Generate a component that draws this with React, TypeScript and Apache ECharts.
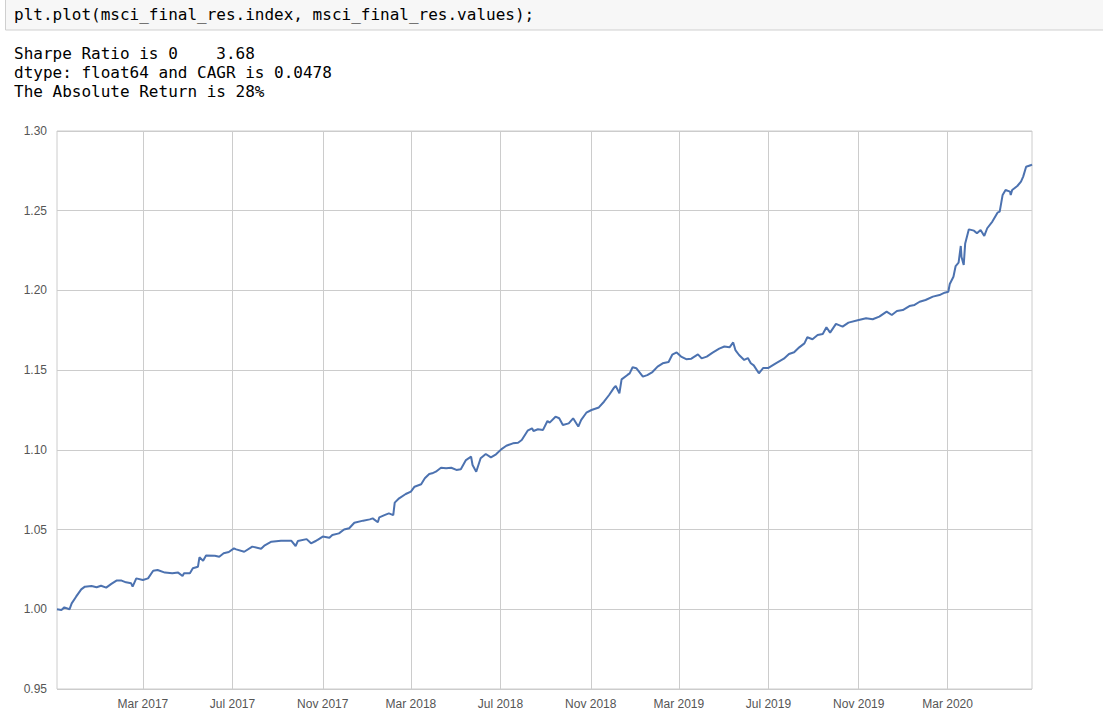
import { useEffect, useRef } from "react";
import * as echarts from "echarts";

const codeLine = "plt.plot(msci_final_res.index, msci_final_res.values);";
const outputLines = [
  "Sharpe Ratio is 0    3.68",
  "dtype: float64 and CAGR is 0.0478",
  "The Absolute Return is 28%",
];

const xStart = "2016-11-04";
const xEnd = "2020-06-24";
const yMin = 0.95;
const yMax = 1.3;
const yStep = 0.05;

const tickDates = [
  "2017-03-01", "2017-07-01", "2017-11-01", "2018-03-01", "2018-07-01",
  "2018-11-01", "2019-03-01", "2019-07-01", "2019-11-01", "2020-03-01",
];
const monthNames = ["Jan", "Feb", "Mar", "Apr", "May", "Jun", "Jul", "Aug", "Sep", "Oct", "Nov", "Dec"];

const dates = [
  "2016-11-04", "2016-11-10", "2016-11-14", "2016-11-21", "2016-11-24", "2016-11-30",
  "2016-12-07", "2016-12-12", "2016-12-21", "2016-12-28",
  "2017-01-03", "2017-01-10", "2017-01-17", "2017-01-24", "2017-01-31",
  "2017-02-06", "2017-02-13", "2017-02-15", "2017-02-20",
  "2017-03-01", "2017-03-08", "2017-03-15", "2017-03-21", "2017-03-31",
  "2017-04-10", "2017-04-18", "2017-04-24", "2017-04-26",
  "2017-05-04", "2017-05-08", "2017-05-15", "2017-05-17", "2017-05-22", "2017-05-26",
  "2017-06-07", "2017-06-13", "2017-06-19", "2017-06-26",
  "2017-07-03", "2017-07-06", "2017-07-17", "2017-07-28",
  "2017-08-09", "2017-08-14", "2017-08-23",
  "2017-09-05", "2017-09-19", "2017-09-25", "2017-09-28",
  "2017-10-10", "2017-10-16", "2017-10-23", "2017-10-25",
  "2017-11-01", "2017-11-10", "2017-11-14", "2017-11-23", "2017-11-30",
  "2017-12-07", "2017-12-14", "2017-12-26",
  "2018-01-04", "2018-01-08", "2018-01-15", "2018-01-17", "2018-01-24", "2018-01-30",
  "2018-02-05", "2018-02-07", "2018-02-13", "2018-02-22",
  "2018-03-01", "2018-03-06", "2018-03-15", "2018-03-20", "2018-03-26", "2018-03-30",
  "2018-04-04", "2018-04-11", "2018-04-18", "2018-04-25",
  "2018-05-02", "2018-05-08", "2018-05-15", "2018-05-22", "2018-05-24", "2018-05-29",
  "2018-06-04", "2018-06-11", "2018-06-18", "2018-06-25",
  "2018-07-02", "2018-07-09", "2018-07-18", "2018-07-25", "2018-07-30",
  "2018-08-07", "2018-08-13", "2018-08-15", "2018-08-21", "2018-08-28",
  "2018-09-03", "2018-09-06", "2018-09-14", "2018-09-19", "2018-09-24",
  "2018-10-02", "2018-10-08", "2018-10-15", "2018-10-19", "2018-10-26",
  "2018-11-02", "2018-11-12", "2018-11-19", "2018-11-26",
  "2018-12-03", "2018-12-05", "2018-12-10", "2018-12-13", "2018-12-21", "2018-12-24", "2018-12-28",
  "2019-01-02", "2019-01-11", "2019-01-17", "2019-01-24", "2019-01-31",
  "2019-02-07", "2019-02-15", "2019-02-20", "2019-02-26",
  "2019-03-04", "2019-03-11", "2019-03-18", "2019-03-27",
  "2019-04-01", "2019-04-08", "2019-04-16", "2019-04-25",
  "2019-05-02", "2019-05-09", "2019-05-14", "2019-05-17", "2019-05-22", "2019-05-29",
  "2019-06-03", "2019-06-07", "2019-06-11", "2019-06-18", "2019-06-24",
  "2019-07-01", "2019-07-11", "2019-07-22", "2019-07-29",
  "2019-08-05", "2019-08-12", "2019-08-19", "2019-08-23", "2019-08-30",
  "2019-09-06", "2019-09-13", "2019-09-18", "2019-09-23",
  "2019-10-01", "2019-10-10", "2019-10-18",
  "2019-11-01", "2019-11-11", "2019-11-20", "2019-11-29",
  "2019-12-09", "2019-12-16", "2019-12-23", "2019-12-31",
  "2020-01-09", "2020-01-16", "2020-01-23", "2020-01-31",
  "2020-02-10", "2020-02-19", "2020-02-26",
  "2020-03-02", "2020-03-04", "2020-03-09", "2020-03-12", "2020-03-16", "2020-03-19",
  "2020-03-20", "2020-03-23", "2020-03-25", "2020-03-30",
  "2020-04-06", "2020-04-10", "2020-04-15", "2020-04-20", "2020-04-24",
  "2020-05-01", "2020-05-08", "2020-05-11", "2020-05-15", "2020-05-19", "2020-05-25",
  "2020-05-26", "2020-05-28",
  "2020-06-04", "2020-06-09", "2020-06-12", "2020-06-16", "2020-06-23", "2020-06-24",
];

const values = [
  1.0, 0.9996, 1.0012, 1.0, 1.0037, 1.0079,
  1.0125, 1.0142, 1.0146, 1.0138,
  1.0148, 1.0136, 1.0159, 1.018, 1.018,
  1.0169, 1.0163, 1.0142, 1.0194,
  1.0184, 1.0194, 1.0242, 1.0246, 1.023,
  1.0226, 1.023, 1.0209, 1.0226,
  1.0226, 1.0257, 1.0267, 1.0326, 1.0305, 1.0338,
  1.0336, 1.033, 1.0351, 1.0359,
  1.0382, 1.0376, 1.0361, 1.0393,
  1.038, 1.0401, 1.0424,
  1.043, 1.043, 1.0397, 1.0428,
  1.044, 1.0414, 1.043, 1.0435,
  1.0456, 1.0449, 1.0466, 1.0476, 1.05,
  1.0508, 1.0543, 1.0556,
  1.0564, 1.057, 1.0546, 1.0577, 1.0591, 1.0602,
  1.0591, 1.0669, 1.0696, 1.0723,
  1.0738, 1.0769, 1.0784, 1.0822, 1.0849, 1.0853,
  1.0863, 1.0888, 1.0884, 1.0888,
  1.0874, 1.0878, 1.0936, 1.0957, 1.0905, 1.0863,
  1.0947, 1.0974, 1.0953, 1.0972,
  1.1003, 1.1026, 1.1041, 1.1045, 1.1062,
  1.112, 1.1135, 1.1118, 1.1129, 1.1125,
  1.1181, 1.1171, 1.1208, 1.1198, 1.1156,
  1.1166, 1.1198, 1.1146, 1.1188, 1.1233,
  1.125, 1.1266, 1.1302, 1.1344,
  1.1392, 1.1401, 1.1355, 1.1442, 1.147, 1.148, 1.1518,
  1.1512, 1.1459, 1.1469, 1.1488, 1.1522,
  1.1543, 1.1551, 1.1597, 1.1611,
  1.1585, 1.1569, 1.1572, 1.1599,
  1.1574, 1.1585, 1.161, 1.1635,
  1.1648, 1.1643, 1.1674, 1.1626, 1.1595, 1.1564,
  1.1576, 1.1543, 1.153, 1.148, 1.1514,
  1.1514, 1.1543, 1.1572, 1.1601,
  1.1612, 1.1643, 1.1668, 1.1706, 1.1694,
  1.172, 1.1727, 1.1769, 1.1735,
  1.179, 1.1773, 1.1798,
  1.1815, 1.1825, 1.1819, 1.1836,
  1.1867, 1.1846, 1.1871, 1.1877,
  1.1902, 1.1909, 1.1929, 1.194,
  1.1961, 1.1971, 1.1986,
  1.1992, 1.204, 1.2086, 1.2153, 1.2174, 1.2279,
  1.221, 1.216, 1.2295, 1.2383,
  1.2375, 1.2358, 1.2379, 1.2342, 1.239,
  1.2432, 1.2488, 1.2494, 1.2599, 1.263, 1.262,
  1.2599, 1.263,
  1.2655, 1.2682, 1.2714, 1.2776, 1.2787, 1.279,
];

const monoFont = '"DejaVu Sans Mono", monospace';
const axisFont = '"Liberation Sans", Arial, sans-serif';

function toTime(s: string): number {
  const [y, m, d] = s.split("-").map(Number);
  return new Date(y, m - 1, d).getTime();
}

export default function App() {
  const ref = useRef<HTMLDivElement>(null);

  useEffect(() => {
    if (!ref.current) return;
    const chart = echarts.init(ref.current, null, { renderer: "svg" });
    const textStyle = (text: string, x: number, y: number) => ({
      text,
      x,
      y,
      fill: "#000000",
      fontSize: 16,
      fontFamily: monoFont,
      align: "left",
      verticalAlign: "middle",
      textAlign: "left",
      textVerticalAlign: "middle",
    });
    const tickTimes = tickDates.map(toTime);
    chart.setOption({
      animation: false,
      backgroundColor: "#ffffff",
      grid: {
        left: 57,
        top: 131,
        width: 975,
        height: 558,
        show: true,
        borderColor: "#cccccc",
        borderWidth: 1,
        backgroundColor: "transparent",
        containLabel: false,
      },
      xAxis: {
        type: "value",
        min: toTime(xStart),
        max: toTime(xEnd),
        scale: true,
        axisLine: { show: false },
        axisTick: { show: false, customValues: tickTimes },
        axisLabel: {
          customValues: tickTimes,
          color: "#555555",
          fontSize: 12,
          fontFamily: axisFont,
          margin: 9,
          formatter: (v: number) => {
            const d = new Date(v);
            return monthNames[d.getMonth()] + " " + d.getFullYear();
          },
        },
        splitLine: { show: true, lineStyle: { color: "#cccccc", width: 1 } },
      },
      yAxis: {
        type: "value",
        min: yMin,
        max: yMax,
        interval: yStep,
        axisLine: { show: false },
        axisTick: { show: false },
        axisLabel: {
          color: "#555555",
          fontSize: 12,
          fontFamily: axisFont,
          margin: 10,
          formatter: (v: number) => v.toFixed(2),
        },
        splitLine: { show: true, lineStyle: { color: "#cccccc", width: 1 } },
      },
      series: [
        {
          type: "line",
          data: dates.map((d, i) => [toTime(d), values[i]]),
          showSymbol: false,
          symbol: "none",
          silent: true,
          z: 3,
          lineStyle: { color: "#4c72b0", width: 2 },
        },
      ],
      graphic: [
        {
          type: "rect",
          shape: { x: 5.5, y: -2, width: 1200, height: 32 },
          style: { fill: "#f7f7f7", stroke: "#cfcfcf", lineWidth: 1 },
          silent: true,
        },
        { type: "text", style: textStyle(codeLine, 14, 14), silent: true },
        ...outputLines.map((t, i) => ({
          type: "text",
          style: textStyle(t, 14, 53 + i * 19),
          silent: true,
        })),
      ],
    });
    return () => chart.dispose();
  }, []);

  return (
    <div
      ref={ref}
      style={{ position: "absolute", left: 0, top: 0, width: 1103, height: 725, background: "#ffffff" }}
    />
  );
}
